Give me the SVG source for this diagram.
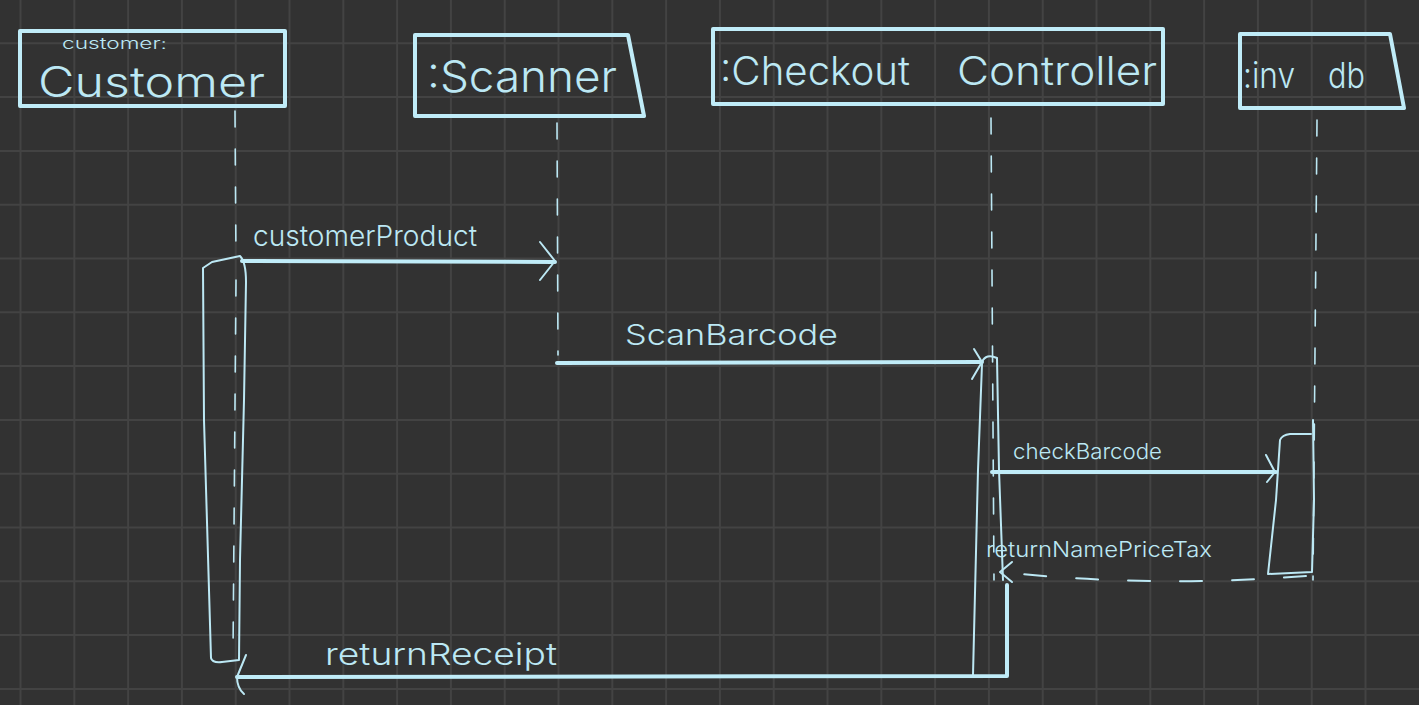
<svg xmlns="http://www.w3.org/2000/svg" width="1419" height="705" viewBox="0 0 1419 705">
<style>
.bg{fill:#323232}
.grid{stroke:#434343;stroke-width:2;fill:none}
.box{stroke:#C0ECF8;stroke-width:4;fill:none;stroke-linejoin:round}
.thin{stroke:#BCE8F4;stroke-width:2;fill:none;stroke-linecap:round;stroke-linejoin:round}
.life{stroke:#BCE8F4;stroke-width:1.6;fill:none;stroke-dasharray:16 22;stroke-linecap:round}
.msg{stroke:#C0ECF8;stroke-width:4;fill:none;stroke-linecap:round;stroke-linejoin:round}
.ret{stroke:#BCE8F4;stroke-width:2;fill:none;stroke-dasharray:22 30;stroke-linecap:round}
text{font-family:"Inter","Open Sans","Liberation Sans",sans-serif;font-weight:300;fill:#BCE8F4}
</style>
<rect class="bg" x="0" y="0" width="1419" height="705"/>
<path class="grid" d="M20.5,0V705M74.3,0V705M128.1,0V705M181.9,0V705M235.7,0V705M289.5,0V705M343.3,0V705M397.1,0V705M450.9,0V705M504.7,0V705M558.5,0V705M612.3,0V705M666.1,0V705M719.9,0V705M773.7,0V705M827.5,0V705M881.3,0V705M935.1,0V705M988.9,0V705M1042.7,0V705M1096.5,0V705M1150.3,0V705M1204.1,0V705M1257.9,0V705M1311.7,0V705M1365.5,0V705M0,43.3H1419M0,97.1H1419M0,150.9H1419M0,204.7H1419M0,258.5H1419M0,312.3H1419M0,366.1H1419M0,419.9H1419M0,473.7H1419M0,527.5H1419M0,581.3H1419M0,635.1H1419M0,688.9H1419"/>

<g id="customer">
  <rect class="box" x="20" y="31" width="265" height="75"/>
  <text x="62" y="49" font-size="15" textLength="105" lengthAdjust="spacingAndGlyphs">customer:</text>
  <text x="38" y="97" font-size="42" textLength="227" lengthAdjust="spacingAndGlyphs">Customer</text>
  <path class="life" d="M235,111 L236,262"/>
  <path class="life" d="M236,280 L233,655"/>
  <path class="thin" d="M203,268 L204,420 L211,658 Q212,663 222,662 L239,660 L240,560 L244,400 L246,282 Q246,262 240,256 L212,262 Z"/>
</g>

<g id="scanner">
  <path class="box" d="M415,35 L628,35 L644,116 L415,116 Z"/>
  <text x="427" y="92" font-size="44" textLength="190" lengthAdjust="spacingAndGlyphs">:Scanner</text>
  <path class="life" d="M557,123 L558,355"/>
</g>

<g id="controller">
  <rect class="box" x="713" y="29" width="450" height="75"/>
  <text font-size="40" y="85"><tspan x="720" textLength="190" lengthAdjust="spacingAndGlyphs">:Checkout</tspan><tspan x="957" textLength="200" lengthAdjust="spacingAndGlyphs">Controller</tspan></text>
  <path class="life" d="M991,118 L994,580"/>
  <path class="thin" d="M982,362 Q986,353 997,358 L999,470 L1003,580"/>
  <path class="thin" d="M982,364 L978,470 L973,675"/>
</g>

<g id="invdb">
  <path class="box" d="M1240,34 L1390,34 L1404,108 L1240,108 Z"/>
  <text font-size="36" y="88"><tspan x="1243" textLength="52" lengthAdjust="spacingAndGlyphs">:inv</tspan><tspan x="1328" textLength="37" lengthAdjust="spacingAndGlyphs">db</tspan></text>
  <path class="life" d="M1317,120 L1313,580"/>
  <path class="thin" d="M1311,434 L1290,434 Q1282,435 1280,440 L1276,500 L1268,574 L1312,572 L1314,500 L1313,420"/>
</g>

<g id="connectors">
  <path class="msg" d="M242,261 L555,262"/>
  <path class="thin" d="M540,242 L555,261 L540,280"/>
  <text x="253" y="246" font-size="28" textLength="224" lengthAdjust="spacingAndGlyphs">customerProduct</text>

  <path class="msg" d="M557,363 L982,362"/>
  <path class="thin" d="M974,349 L982,362 L972,379"/>
  <text x="625" y="345" font-size="29" textLength="213" lengthAdjust="spacingAndGlyphs">ScanBarcode</text>

  <path class="msg" d="M992,472 L1276,472"/>
  <path class="thin" d="M1266,455 L1275,472 L1267,482"/>
  <text x="1013" y="459" font-size="22" textLength="149" lengthAdjust="spacingAndGlyphs">checkBarcode</text>

  <path class="ret" d="M1306,576 Q1150,588 1002,572"/>
  <path class="thin" d="M1012,562 L1000,572 L1012,582"/>
  <text x="986" y="557" font-size="22" textLength="226" lengthAdjust="spacingAndGlyphs">returnNamePriceTax</text>

  <path class="msg" d="M1007,585 L1007,676 L237,677"/>
  <path class="thin" d="M246,655 L237,677 Q237,688 244,694"/>
  <text x="325" y="665" font-size="30" textLength="232" lengthAdjust="spacingAndGlyphs">returnReceipt</text>
</g>
</svg>
